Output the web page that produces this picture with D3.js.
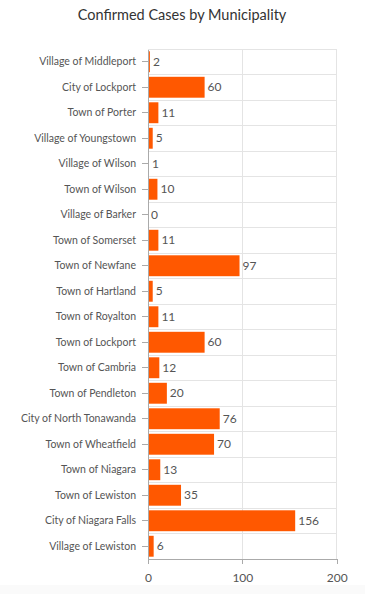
<!DOCTYPE html>
<html>
<head>
<script src="https://cdn.jsdelivr.net/npm/d3@7"></script>
<style>
  body { margin: 0; background: #fff; font-family: Lato, "Open Sans", sans-serif; }
  .grid line { stroke: #e4e4e4; shape-rendering: crispEdges; }
  .axis path, .axis line { stroke: #aaa; shape-rendering: crispEdges; }
  .axis text { fill: #555; }
</style>
</head>
<body>
<script>
var municipalities = ["Village of Middleport", "City of Lockport", "Town of Porter", "Village of Youngstown",
  "Village of Wilson", "Town of Wilson", "Village of Barker", "Town of Somerset", "Town of Newfane",
  "Town of Hartland", "Town of Royalton", "Town of Lockport", "Town of Cambria", "Town of Pendleton",
  "City of North Tonawanda", "Town of Wheatfield", "Town of Niagara", "Town of Lewiston",
  "City of Niagara Falls", "Village of Lewiston"];
var cases = [2, 60, 11, 5, 1, 10, 0, 11, 97, 5, 11, 60, 12, 20, 76, 70, 13, 35, 156, 6];
var xTicks = [0, 100, 200];

var width = 365, height = 594;
var plotLeft = 148, plotRight = 336.7, plotTop = 49, plotBottom = 559;

var svg = d3.select("body").append("svg")
  .attr("width", width).attr("height", height);

svg.append("rect").attr("x", 0).attr("y", 585).attr("width", width).attr("height", 9).attr("fill", "#fafafa");

svg.append("text")
  .attr("x", 182).attr("y", 20)
  .attr("text-anchor", "middle")
  .attr("font-size", 14.5)
  .attr("fill", "#333")
  .text("Confirmed Cases by Municipality");

var x = d3.scaleLinear().domain([0, 200]).range([plotLeft, plotRight]);
var y = d3.scaleBand().domain(municipalities).range([plotTop, plotBottom]).paddingInner(0.18).paddingOuter(0.09);

// grid
var grid = svg.append("g").attr("class", "grid");
grid.selectAll(".v").data(xTicks).enter().append("line")
  .attr("x1", d => x(d)).attr("x2", d => x(d)).attr("y1", plotTop).attr("y2", plotBottom);
var bounds = d3.range(municipalities.length).map(i => plotTop + (plotBottom - plotTop) * i / municipalities.length);
grid.selectAll(".h").data(bounds).enter().append("line")
  .attr("x1", plotLeft).attr("x2", plotRight).attr("y1", d => d).attr("y2", d => d);

svg.selectAll(".bar").data(cases).enter().append("rect")
  .attr("x", x(0))
  .attr("y", (d, i) => y(municipalities[i]))
  .attr("width", d => x(d) - x(0))
  .attr("height", y.bandwidth())
  .attr("fill", "#ff5800");

svg.selectAll(".val").data(cases).enter().append("text")
  .attr("x", d => x(d) + 3)
  .attr("y", (d, i) => y(municipalities[i]) + y.bandwidth() / 2)
  .attr("dy", "0.35em")
  .attr("font-size", 12)
  .attr("fill", "#555")
  .text(d => d);

var yAxis = svg.append("g").attr("class", "axis")
  .attr("transform", "translate(" + plotLeft + ",0)")
  .call(d3.axisLeft(y).tickSize(6).tickPadding(6).tickSizeOuter(0));
yAxis.selectAll("text").attr("font-size", 10.5).attr("font-family", "Lato, sans-serif");

var xAxis = svg.append("g").attr("class", "axis")
  .attr("transform", "translate(0," + plotBottom + ")")
  .call(d3.axisBottom(x).tickValues(xTicks).tickSize(5).tickPadding(9).tickSizeOuter(0));
xAxis.selectAll("text").attr("font-size", 12).attr("font-family", "Lato, sans-serif");
</script>
</body>
</html>
